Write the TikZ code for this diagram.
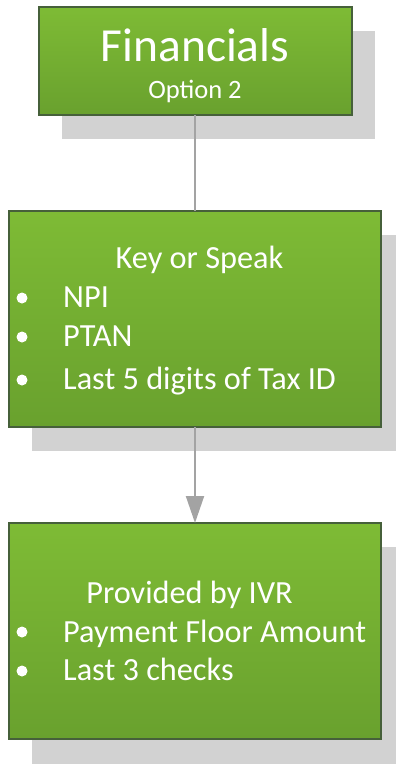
\documentclass[tikz,border=0pt]{standalone}
\usepackage{fontspec}
\setmainfont{Carlito}
\usetikzlibrary{arrows.meta}
\definecolor{gtop}{HTML}{7EBB35}
\definecolor{gbot}{HTML}{69A12E}
\definecolor{gedge}{HTML}{46603A}
\definecolor{shad}{HTML}{D2D2D2}
\definecolor{conn}{HTML}{A3A3A3}
\tikzset{
  shadowbox/.style={fill=shad, draw=none},
  greenbox/.style={top color=gtop, bottom color=gbot, draw=gedge, line width=1.2pt},
  txt/.style={text=white, inner sep=0pt, font=\fontsize{32.3}{32.3}\selectfont},
  bul/.style={fill=white},
  connector/.style={draw=conn, line width=2pt}
}
\begin{document}
\begin{tikzpicture}[x=1pt,y=-1pt]
\useasboundingbox (0,0) rectangle (396,764);
% shadows
\fill[shadowbox] (62,31) rectangle (375,139);
\fill[shadowbox] (32,235) rectangle (396,451);
\fill[shadowbox] (32,547) rectangle (396,764);
% boxes
\path[greenbox] (39,7) rectangle (352,115);
\coordinate (b1) at (195,115);
\path[greenbox] (9,211) rectangle (381,427);
\coordinate (b2t) at (195,211);
\coordinate (b2) at (195,427);
\path[greenbox] (9,523) rectangle (381,739);
\coordinate (b3t) at (195,523);
% connectors
\draw[connector] (b1) -- (b2t);
\draw[connector, -{Triangle[length=27pt,width=18pt]}] (b2) -- (b3t);
% box 1 text
\node[txt, anchor=base, font=\fontsize{47.5}{47.5}\selectfont] (t1) at (195,61) {Financials};
\node[txt, anchor=base, font=\fontsize{26.5}{26.5}\selectfont] (t1b) at (195,98) {Option 2};
% box 2 text
\node[txt, anchor=base] (t2) at (199.5,268) {Key or Speak};
\node[txt, anchor=base west] (t2a) at (63,307) {NPI};
\node[txt, anchor=base west] (t2b) at (63,346) {PTAN};
\node[txt, anchor=base west] (t2c) at (63,389) {Last 5 digits of Tax ID};
\fill[bul] (22,298) circle (5.5);
\fill[bul] (22,337) circle (5.5);
\fill[bul] (22,380) circle (5.5);
% box 3 text
\node[txt, anchor=base] (t3) at (189.5,603) {Provided by IVR};
\node[txt, anchor=base west] (t3a) at (63,642) {Payment Floor Amount};
\node[txt, anchor=base west] (t3b) at (63,680) {Last 3 checks};
\fill[bul] (22,632) circle (5.5);
\fill[bul] (22,671) circle (5.5);
\end{tikzpicture}
\end{document}
